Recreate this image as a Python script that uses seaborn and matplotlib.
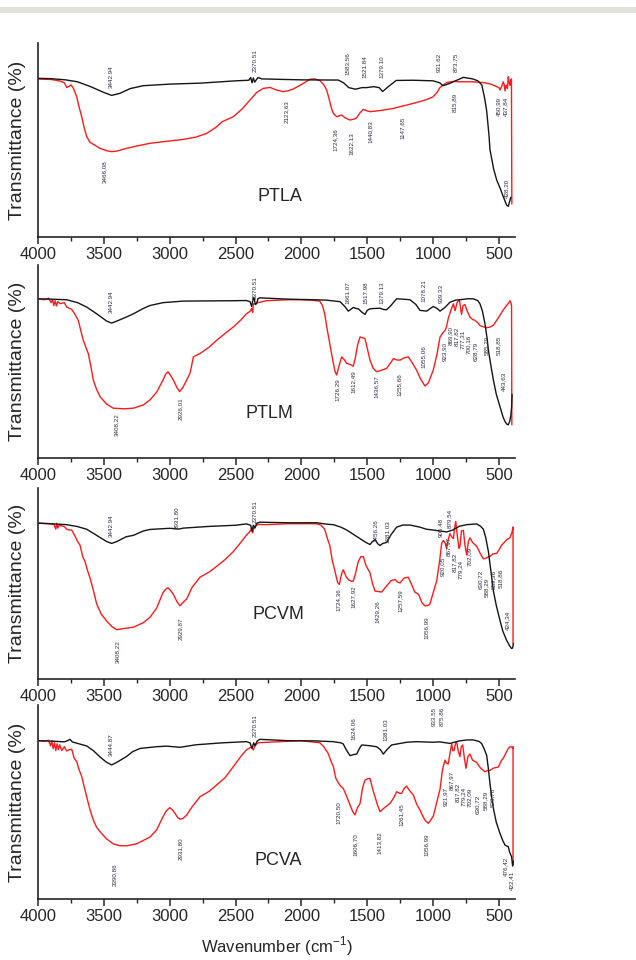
import matplotlib
matplotlib.use("Agg")
import matplotlib.pyplot as plt
import pandas as pd
import seaborn as sns
from matplotlib.patches import Rectangle
from matplotlib.ticker import MultipleLocator

# spectra: (wavenumber, transmittance in arbitrary %)
ptla_black = [(4000, 81.8), (3900, 81.6), (3790, 81.0), (3700, 80.0), (3600, 77.5), (3500, 74.5),
              (3441, 73.0), (3380, 74.0), (3300, 76.5), (3200, 78.0), (3000, 78.8), (2770, 79.3),
              (2500, 80.5), (2400, 80.8), (2385, 82.2), (2375, 79.5), (2365, 82.0), (2355, 79.8),
              (2330, 82.2), (2300, 81.5), (2000, 81.0), (1720, 80.9), (1680, 79.5), (1640, 77.0),
              (1590, 76.2), (1540, 77.0), (1505, 77.0), (1450, 77.5), (1410, 77.0), (1383, 75.0),
              (1340, 77.5), (1280, 80.7), (1150, 80.8), (1000, 80.5), (950, 79.5), (925, 78.0),
              (880, 79.0), (830, 80.5), (770, 82.3), (700, 81.5), (660, 80.5), (630, 78.4),
              (610, 72.0), (593, 65.0), (575, 52.0), (568, 45.0), (540, 35.0), (517, 29.4),
              (490, 25.0), (467, 20.8), (442, 16.5), (429, 15.8), (420, 18.0), (410, 20.5)]
ptla_red = [(4000, 81.4), (3900, 81.2), (3833, 80.4), (3800, 79.5), (3782, 77.1), (3765, 77.6),
            (3749, 78.4), (3730, 76.5), (3706, 72.3), (3690, 67.5), (3668, 62.0), (3650, 56.5),
            (3630, 51.7), (3605, 48.8), (3580, 47.8), (3529, 45.7), (3480, 44.5), (3441, 44.0),
            (3400, 44.3), (3327, 45.7), (3250, 46.9), (3150, 48.3), (3000, 49.5), (2896, 50.3),
            (2800, 51.5), (2719, 53.4), (2650, 56.5), (2600, 59.5), (2517, 62.0), (2450, 66.0),
            (2390, 70.6), (2340, 74.5), (2289, 76.6), (2238, 77.1), (2190, 75.8), (2137, 74.9),
            (2100, 75.4), (2061, 76.3), (2000, 78.6), (1935, 81.3), (1900, 81.5), (1859, 80.6),
            (1830, 78.5), (1808, 75.8), (1785, 70.0), (1770, 66.0), (1757, 63.7), (1732, 62.0),
            (1710, 62.5), (1694, 62.9), (1670, 61.5), (1631, 60.3), (1600, 60.8), (1580, 61.5),
            (1555, 64.0), (1530, 65.8), (1500, 65.0), (1479, 64.6), (1400, 65.2), (1300, 66.3),
            (1251, 67.2), (1200, 68.0), (1100, 69.8), (1050, 70.8), (1000, 72.3), (970, 74.5),
            (947, 77.1), (920, 78.5), (897, 79.6), (846, 80.2), (800, 80.0), (745, 80.0),
            (700, 80.0), (618, 79.6), (560, 78.8), (517, 77.5), (500, 77.0), (492, 75.8),
            (480, 77.5), (467, 80.0), (460, 78.5), (454, 75.3), (447, 78.0), (442, 78.2),
            (435, 76.5), (429, 82.6), (422, 79.5), (416, 78.2), (409, 80.9), (405, 81.5), (402, 17.0)]

ptlm_black = [(4000, 82.5), (3900, 82.3), (3782, 82.0), (3700, 80.5), (3630, 78.2), (3550, 74.5),
              (3480, 71.0), (3441, 69.9), (3400, 71.0), (3330, 73.0), (3276, 74.7), (3200, 77.5),
              (3150, 79.0), (3050, 80.5), (2896, 81.3), (2700, 81.4), (2500, 81.5), (2418, 81.6),
              (2390, 81.0), (2378, 78.5), (2368, 82.0), (2360, 83.2), (2350, 79.5), (2340, 80.0),
              (2330, 82.5), (2315, 83.0), (2100, 82.3), (1900, 82.0), (1810, 81.8), (1707, 81.0),
              (1670, 78.5), (1644, 76.1), (1625, 77.0), (1606, 78.0), (1585, 77.5), (1568, 77.3),
              (1540, 75.5), (1517, 74.4), (1500, 76.5), (1479, 77.3), (1440, 77.5), (1403, 77.6),
              (1380, 77.0), (1353, 76.8), (1320, 79.0), (1277, 82.5), (1230, 82.3), (1175, 82.0),
              (1130, 79.5), (1100, 76.5), (1049, 76.1), (1020, 77.5), (998, 78.5), (970, 77.5),
              (947, 76.1), (910, 78.0), (872, 80.7), (830, 81.8), (796, 82.0), (740, 82.5),
              (695, 82.5), (660, 81.5), (644, 79.9), (625, 76.0), (606, 69.6), (590, 62.0),
              (580, 55.8), (560, 47.5), (542, 40.4), (520, 33.0), (492, 26.6), (470, 21.5),
              (454, 18.9), (440, 17.5), (429, 17.2), (418, 19.0), (410, 22.0), (404, 26.0), (400, 33.0)]
ptlm_red = [(4000, 82.5), (3950, 82.0), (3920, 82.8), (3900, 80.5), (3890, 82.0), (3880, 79.0),
            (3870, 81.5), (3860, 78.8), (3850, 81.0), (3830, 80.0), (3800, 80.5), (3782, 78.2),
            (3760, 77.5), (3744, 77.0), (3720, 74.5), (3694, 71.3), (3675, 66.0), (3656, 61.0),
            (3640, 58.0), (3618, 54.1), (3600, 48.0), (3580, 40.4), (3555, 35.5), (3529, 31.8),
            (3480, 28.0), (3428, 25.8), (3350, 25.5), (3276, 25.8), (3200, 27.5), (3150, 30.1),
            (3100, 34.0), (3051, 40.4), (3030, 43.5), (3013, 44.7), (2995, 43.0), (2972, 40.4),
            (2945, 36.5), (2924, 34.4), (2900, 36.5), (2871, 40.4), (2845, 44.0), (2820, 52.4),
            (2790, 53.5), (2770, 54.1), (2700, 57.5), (2643, 61.0), (2580, 64.5), (2517, 67.9),
            (2460, 71.5), (2418, 74.7), (2390, 76.0), (2378, 77.5), (2370, 75.5), (2365, 79.8),
            (2330, 80.5), (2266, 81.5), (2100, 82.0), (2013, 82.0), (1920, 81.8), (1861, 81.3),
            (1840, 79.0), (1823, 74.7), (1805, 67.0), (1785, 59.3), (1760, 50.0), (1745, 45.0),
            (1732, 43.0), (1715, 47.5), (1694, 52.4), (1675, 51.0), (1656, 49.0), (1630, 48.5),
            (1606, 47.6), (1590, 52.0), (1575, 58.0), (1555, 62.7), (1535, 62.3), (1517, 61.9),
            (1500, 57.0), (1479, 50.7), (1455, 46.5), (1429, 44.7), (1400, 45.3), (1353, 46.4),
            (1320, 49.5), (1302, 51.5), (1275, 50.8), (1251, 50.7), (1220, 51.9), (1188, 52.4),
            (1160, 49.5), (1125, 45.5), (1095, 41.0), (1062, 37.3), (1035, 39.0), (998, 45.7),
            (970, 54.0), (947, 62.7), (925, 65.0), (910, 66.0), (900, 67.5), (885, 72.2),
            (865, 76.5), (846, 79.9), (833, 76.3), (818, 80.5), (800, 82.0), (784, 74.4),
            (772, 79.0), (758, 79.5), (740, 76.0), (720, 73.0), (700, 71.8), (682, 71.3),
            (660, 70.0), (644, 68.6), (620, 68.0), (593, 67.5), (570, 67.8), (542, 68.8),
            (520, 71.0), (492, 73.9), (470, 76.5), (442, 79.0), (425, 80.5), (416, 81.5),
            (408, 80.0), (404, 78.8), (402, 17.2)]

pcvm_black = [(4000, 81.6), (3900, 81.3), (3782, 80.8), (3700, 79.8), (3630, 78.4), (3550, 75.0),
              (3480, 72.0), (3441, 71.0), (3400, 72.0), (3330, 74.5), (3276, 75.2), (3200, 77.5),
              (3150, 78.3), (3000, 78.9), (2931, 78.5), (2896, 79.0), (2700, 79.9), (2500, 80.5),
              (2418, 81.2), (2385, 80.5), (2375, 77.3), (2365, 80.5), (2353, 79.0), (2340, 81.5),
              (2315, 82.1), (2100, 81.8), (1884, 81.8), (1800, 81.0), (1757, 80.8), (1700, 79.5),
              (1656, 78.0), (1600, 75.5), (1555, 73.5), (1510, 71.5), (1479, 70.4), (1460, 72.0),
              (1441, 73.0), (1420, 70.8), (1403, 69.9), (1381, 71.0), (1353, 71.5), (1320, 75.5),
              (1277, 79.5), (1230, 80.6), (1175, 80.6), (1100, 79.5), (1049, 78.4), (1000, 78.0),
              (950, 77.5), (897, 77.0), (850, 78.0), (800, 80.0), (745, 80.8), (669, 81.2),
              (640, 80.0), (618, 78.4), (600, 74.0), (580, 66.7), (560, 56.0), (542, 46.0),
              (520, 38.5), (492, 30.6), (470, 25.0), (442, 20.3), (420, 17.5), (405, 16.0),
              (396, 16.2), (390, 18.5)]
pcvm_red = [(4000, 81.6), (3920, 81.3), (3880, 81.0), (3865, 78.5), (3858, 81.5), (3850, 79.0),
            (3840, 80.5), (3800, 79.8), (3782, 78.4), (3760, 78.0), (3744, 78.0), (3720, 75.0),
            (3700, 72.0), (3681, 70.1), (3660, 64.0), (3643, 61.5), (3625, 57.0), (3605, 52.9),
            (3580, 46.5), (3554, 39.2), (3520, 34.0), (3479, 30.4), (3440, 27.5), (3403, 25.8),
            (3340, 26.5), (3276, 27.1), (3200, 29.5), (3150, 32.3), (3100, 37.0), (3051, 45.2),
            (3030, 47.0), (3013, 47.8), (2995, 46.5), (2972, 44.3), (2945, 40.5), (2922, 38.3),
            (2900, 40.0), (2871, 41.9), (2830, 48.0), (2770, 53.3), (2700, 56.0), (2643, 59.0),
            (2580, 62.5), (2517, 66.7), (2460, 71.5), (2418, 75.3), (2390, 77.3), (2378, 78.8),
            (2370, 76.5), (2360, 79.5), (2330, 80.9), (2264, 80.8), (2100, 81.3), (1884, 81.3),
            (1850, 80.5), (1823, 78.4), (1800, 73.0), (1785, 70.1), (1765, 62.0), (1745, 56.4),
            (1725, 50.5), (1712, 49.5), (1695, 55.0), (1682, 57.2), (1660, 53.5), (1640, 51.8),
            (1620, 51.2), (1606, 51.2), (1590, 55.0), (1568, 61.5), (1548, 64.1), (1530, 64.1),
            (1510, 59.5), (1479, 55.6), (1460, 50.0), (1441, 46.0), (1415, 45.8), (1391, 45.5),
            (1350, 49.0), (1320, 51.5), (1290, 52.1), (1270, 50.8), (1251, 50.3), (1220, 52.9),
            (1188, 53.3), (1160, 49.0), (1138, 45.5), (1110, 44.3), (1085, 40.0), (1062, 38.3),
            (1040, 38.5), (1024, 39.2), (1000, 45.0), (973, 51.2), (950, 62.0), (935, 71.0),
            (922, 72.5), (910, 71.5), (898, 68.4), (885, 73.0), (872, 76.1), (860, 74.5),
            (846, 73.5), (838, 78.5), (828, 82.5), (815, 74.5), (804, 68.4), (796, 69.5),
            (785, 77.5), (770, 77.8), (758, 70.0), (745, 65.0), (732, 72.0), (720, 73.9),
            (700, 71.5), (669, 69.5), (640, 65.5), (618, 62.9), (600, 63.2), (580, 64.0),
            (568, 64.2), (545, 65.5), (517, 65.8), (500, 67.5), (480, 70.0), (467, 71.0),
            (440, 73.0), (416, 73.9), (400, 77.0), (393, 79.6), (393, 18.5)]

pcva_black = [(4000, 81.6), (3900, 81.4), (3800, 81.0), (3770, 81.8), (3757, 82.3), (3740, 81.0),
              (3700, 80.2), (3630, 78.9), (3580, 76.5), (3529, 73.2), (3480, 70.5), (3441, 69.1),
              (3400, 70.5), (3327, 73.5), (3280, 76.0), (3225, 77.6), (3100, 78.5), (3023, 78.8),
              (2922, 78.2), (2800, 79.5), (2600, 80.5), (2418, 81.1), (2390, 80.5), (2375, 77.6),
              (2362, 80.5), (2353, 79.0), (2335, 81.5), (2315, 82.3), (2100, 81.6), (1900, 81.5),
              (1757, 81.1), (1700, 80.5), (1682, 79.9), (1660, 77.0), (1631, 73.9), (1600, 74.5),
              (1580, 74.7), (1560, 77.5), (1542, 79.4), (1480, 79.0), (1429, 78.5), (1400, 77.0),
              (1378, 74.7), (1350, 77.0), (1315, 79.4), (1200, 80.8), (1125, 81.1), (1000, 80.8),
              (950, 81.0), (872, 80.2), (800, 81.5), (740, 82.0), (695, 82.0), (650, 81.2),
              (631, 80.1), (610, 77.0), (593, 74.0), (580, 67.0), (568, 59.6), (555, 52.5),
              (542, 46.7), (520, 39.5), (492, 33.8), (470, 30.0), (454, 27.8), (440, 27.3),
              (429, 27.0), (418, 24.0), (404, 21.8), (396, 17.0), (390, 19.5)]
pcva_red = [(4000, 81.6), (3950, 81.3), (3920, 81.8), (3905, 79.0), (3895, 81.5), (3885, 77.5),
            (3875, 80.5), (3865, 76.5), (3855, 80.0), (3845, 77.0), (3835, 79.5), (3820, 76.5),
            (3800, 78.5), (3782, 76.3), (3760, 77.0), (3744, 77.2), (3725, 72.5), (3706, 70.9),
            (3690, 67.0), (3668, 63.1), (3650, 58.0), (3630, 52.7), (3605, 46.0), (3580, 40.7),
            (3555, 37.0), (3529, 34.7), (3480, 31.0), (3428, 28.4), (3380, 27.5), (3327, 27.4),
            (3250, 28.5), (3150, 31.9), (3100, 35.5), (3051, 42.4), (3025, 45.5), (3000, 47.1),
            (2980, 46.0), (2960, 44.2), (2940, 42.0), (2922, 41.1), (2900, 41.5), (2871, 43.3),
            (2830, 47.5), (2770, 52.7), (2700, 55.5), (2643, 58.8), (2580, 62.5), (2517, 68.2),
            (2460, 73.5), (2418, 76.8), (2390, 78.0), (2375, 78.5), (2365, 76.8), (2353, 79.0),
            (2330, 80.5), (2315, 80.6), (2100, 81.3), (2011, 81.6), (1920, 81.0), (1861, 80.6),
            (1830, 78.5), (1797, 75.1), (1775, 71.0), (1757, 68.2), (1740, 62.5), (1719, 59.8),
            (1700, 58.0), (1682, 57.0), (1660, 53.5), (1631, 48.5), (1610, 45.0), (1593, 43.3),
            (1575, 47.0), (1555, 49.1), (1535, 57.5), (1517, 61.3), (1495, 62.0), (1479, 62.2),
            (1460, 57.0), (1441, 52.7), (1420, 48.0), (1403, 45.0), (1370, 47.0), (1327, 49.3),
            (1300, 52.0), (1277, 55.3), (1255, 54.5), (1239, 54.4), (1220, 57.0), (1201, 58.2),
            (1180, 56.0), (1150, 53.6), (1125, 49.0), (1100, 45.9), (1080, 43.0), (1060, 40.5),
            (1036, 39.0), (1015, 41.0), (998, 42.8), (975, 49.0), (947, 56.7), (930, 66.0),
            (920, 69.0), (910, 71.6), (898, 70.0), (885, 69.6), (872, 75.0), (859, 79.9),
            (850, 76.5), (841, 76.5), (830, 80.0), (822, 81.1), (808, 76.0), (796, 73.4),
            (786, 78.5), (775, 79.4), (762, 72.5), (750, 67.4), (735, 73.5), (720, 74.7),
            (700, 71.5), (669, 70.4), (640, 67.5), (606, 65.6), (585, 66.2), (568, 66.3),
            (540, 67.5), (505, 68.0), (480, 71.5), (467, 72.6), (445, 75.5), (429, 77.6),
            (415, 78.5), (404, 78.4), (396, 77.6), (393, 78.5), (393, 18.0)]

panel_names = ["PTLA", "PTLM", "PCVM", "PCVA"]

# peak annotations: (text, wavenumber position, height position)
ptla_peaks = [("3442.94", 3441, 82.6), ("2370.51", 2352, 90.7), ("1583.56", 1644, 89.5),
              ("1521.84", 1517, 87.8), ("1379.10", 1385, 87.8), ("931.62", 953, 89.9),
              ("873.75", 821, 89.9), ("3466,08", 3491, 33.7), ("2123,63", 2117, 64.6),
              ("1724,36", 1745, 50.3), ("1622,13", 1618, 47.9), ("1440,83", 1479, 54.3),
              ("1147,65", 1231, 56.5), ("815,89", 834, 69.2), ("450,99", 500, 67.2),
              ("437,84", 446, 67.2), ("428,20", 441, 25.1)]
ptlm_peaks = [("3442.94", 3441, 81.1), ("2370.51", 2352, 88.5), ("1661.07", 1644, 85.9),
              ("1517.98", 1512, 85.9), ("1379.13", 1385, 85.9), ("1078.21", 1067, 86.5),
              ("939.33", 935, 85.0), ("3408,22", 3403, 17.2), ("2926,01", 2922, 25.8),
              ("1726,29", 1727, 35.2), ("1612,49", 1606, 39.5), ("1436,57", 1428, 36.9),
              ("1255,66", 1256, 37.8), ("1055,06", 1074, 52.4), ("923,90", 914, 55.0),
              ("869,90", 866, 63.5), ("817,82", 820, 63.0), ("777,31", 774, 61.3),
              ("700,16", 728, 58.9), ("628,79", 682, 55.0), ("585,29", 593, 58.4),
              ("518,85", 500, 58.4), ("443,63", 467, 39.5)]
pcvm_peaks = [("3442.94", 3441, 80.4), ("2931.80", 2947, 84.7), ("2370.51", 2352, 87.6),
              ("1456.26", 1434, 77.8), ("1381.03", 1340, 77.0), ("905.48", 935, 79.6),
              ("879.54", 872, 84.2), ("3408,22", 3398, 14.3), ("2929,87", 2922, 26.3),
              ("1724,36", 1720, 41.8), ("1627,92", 1606, 43.0), ("1429,26", 1421, 35.4),
              ("1257,59", 1251, 40.9), ("1056,99", 1049, 26.8), ("920,05", 930, 58.9),
              ("867,97", 884, 69.2), ("817,82", 838, 61.2), ("779,24", 792, 57.2),
              ("702,09", 722, 64.1), ("630,72", 640, 52.1), ("588,29", 592, 48.1),
              ("559,36", 544, 52.1), ("518,86", 488, 52.9), ("424,34", 436, 30.6)]
pcva_peaks = [("3444.87", 3441, 79.4), ("2370.51", 2352, 89.2), ("1624.06", 1598, 88.0),
              ("1381.03", 1358, 87.1), ("933.55", 991, 94.0), ("875.86", 927, 94.0),
              ("3390,86", 3415, 12.4), ("2931,80", 2922, 25.8), ("1720,50", 1720, 44.5),
              ("1606,70", 1593, 27.8), ("1413,82", 1411, 29.0), ("1261,45", 1239, 43.3),
              ("1056,99", 1054, 27.8), ("921,97", 908, 52.7), ("867,97", 862, 61.0),
              ("817,82", 816, 54.8), ("779,24", 770, 53.1), ("702,09", 724, 52.4),
              ("630,72", 666, 49.0), ("588,29", 600, 50.7), ("520,78", 548, 52.4),
              ("476,42", 452, 16.7), ("422,41", 404, 9.8)]

# where each panel name sits
name_spots = [(2163, 20.8), (2244, 23.2), (2177, 34.0), (2177, 20.1)]

blacks = [ptla_black, ptlm_black, pcvm_black, pcva_black]
reds = [ptla_red, ptlm_red, pcvm_red, pcva_red]
peaks = [ptla_peaks, ptlm_peaks, pcvm_peaks, pcva_peaks]

sns.set_style("ticks")
plt.rcParams['font.family'] = ['Liberation Sans', 'DejaVu Sans']

fig = plt.figure(figsize=(6.36, 9.6), dpi=100)
fig.add_artist(Rectangle((0, 1 - 13 / 960), 1, 6 / 960, transform=fig.transFigure,
                         facecolor="#e2e1db", edgecolor="none"))

# panel boxes in pixels: top, bottom
rows = [(43, 237), (265, 458), (488, 679), (705, 899)]

for i, (top, bot) in enumerate(rows):
    ax = fig.add_axes([38 / 636, 1 - bot / 960, 477 / 636, (bot - top) / 960])
    dfb = pd.DataFrame(blacks[i], columns=["wn", "t"])
    dfr = pd.DataFrame(reds[i], columns=["wn", "t"])
    sns.lineplot(data=dfr, x="wn", y="t", sort=False, estimator=None,
                 color="#ff1a1a", lw=1.0, ax=ax)
    sns.lineplot(data=dfb, x="wn", y="t", sort=False, estimator=None,
                 color="#151515", lw=1.0, ax=ax)

    for txt, px, py in peaks[i]:
        ax.text(px, py, txt, rotation=90, fontsize=4.5, color="#2c2c44",
                ha="center", va="center")
    nx, ny = name_spots[i]
    ax.text(nx, ny, panel_names[i], fontsize=13, ha="center", va="center")

    ax.set_xlim(4000, 378)
    ax.set_ylim(0, 100)
    ax.set_yticks([])
    ax.spines[["top", "right"]].set_visible(False)
    ax.spines[["left", "bottom"]].set_linewidth(1.2)
    ax.xaxis.set_major_locator(MultipleLocator(500))
    ax.xaxis.set_minor_locator(MultipleLocator(250))
    ax.tick_params(axis="x", which="major", length=5, width=1.1, labelsize=12, pad=2)
    ax.tick_params(axis="x", which="minor", length=3, width=1.0)
    ax.set_ylabel("Transmittance (%)", fontsize=14)
    ax.yaxis.set_label_coords(-0.025, 0.5)
    if i == 3:
        ax.set_xlabel(r"Wavenumber (cm$^{\mathregular{-1}}$)", fontsize=12, labelpad=8)
    else:
        ax.set_xlabel("")

fig.savefig("out.png", dpi=100)
